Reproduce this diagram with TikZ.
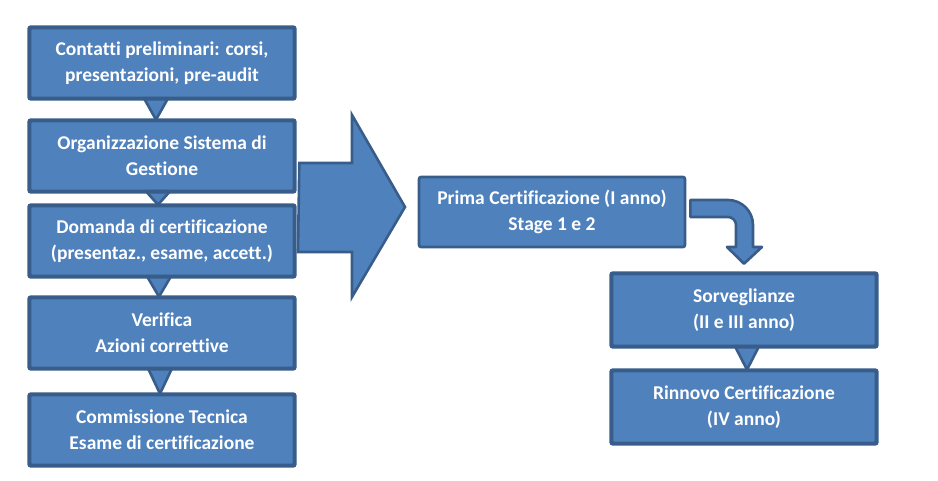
\documentclass[tikz,border=0pt]{standalone}
\usepackage{fontspec}
\setmainfont[Ligatures={NoCommon,NoRequired,NoContextual}]{Carlito}
\usetikzlibrary{calc}
\definecolor{boxfill}{HTML}{4F81BD}
\definecolor{boxline}{HTML}{385D8A}
\begin{document}
\begin{tikzpicture}[x=1pt,y=-1pt,
  stepbox/.style={draw=boxline,fill=boxfill,line width=2.6pt,rounded corners=2pt,
    minimum width=264pt,minimum height=70pt,align=center,text=white,
    font=\fontsize{19.5}{26}\selectfont\bfseries,inner sep=0pt},
  blueshape/.style={draw=boxline,fill=boxfill,line width=2.6pt,line join=round}]
\useasboundingbox (0,0) rectangle (938,481);
% left column
\node[stepbox] (b1) at (162,63) {Contatti preliminari: corsi,\\presentazioni, pre-audit};
\node[stepbox] (b2) at (162,156) {Organizzazione Sistema di\\Gestione};
\node[stepbox] (b3) at (162,241) {Domanda di certificazione\\(presentaz., esame, accett.)};
\node[stepbox] (b4) at (162,333) {Verifica\\Azioni correttive};
\node[stepbox] (b5) at (162,430) {Commissione Tecnica\\Esame di certificazione};
% right part
\node[stepbox,minimum width=266pt] (p) at (552,212) {Prima Certificazione (I anno)\\Stage 1 e 2};
\node[stepbox,minimum height=72pt] (s) at (744,310) {Sorveglianze\\(II e III anno)};
\node[stepbox,minimum height=72pt] (r) at (744,407) {Rinnovo Certificazione\\(IV anno)};
% triangle connectors
\newcommand{\conn}[3]{%
  \draw[blueshape] ($(#1.south)+(#3-12,-1)$) -- ($(#1.south)+(#3+12,-1)$) -- ($(#2.north)+(#3,0)$) -- cycle;}
\conn{b1}{b2}{-6}
\conn{b2}{b3}{-4}
\conn{b3}{b4}{-3}
\conn{b4}{b5}{-2}
\conn{s}{r}{3}
% redraw box edges over triangles
\foreach \n in {b1,b2,b3,b4,b5,s,r}{
  \draw[boxline,line width=2.6pt,rounded corners=2pt] (\n.south west) rectangle (\n.north east);}
% big arrow
\draw[blueshape,line join=miter] ($(b2.east)+(4,7)$) coordinate (a1) -- (352,163) -- (352,115) -- (405,207) coordinate (tip)
  -- (352,297) -- (352,252) -- (298,252) -- cycle;
% curved arrow
\draw[blueshape] ($(p.east)+(4,-12)$) -- (728,200) .. controls (741.8,200) and (753,211.2) .. (753,225)
  -- (753,247) -- (762,247) -- ($(s.north)+(0,-9)$) coordinate (ctip) -- (727,247) -- (736,247) -- (736,225)
  .. controls (736,220.6) and (732.4,217) .. (728,217) -- ($(p.east)+(4,5)$) -- cycle;
\end{tikzpicture}
\end{document}
